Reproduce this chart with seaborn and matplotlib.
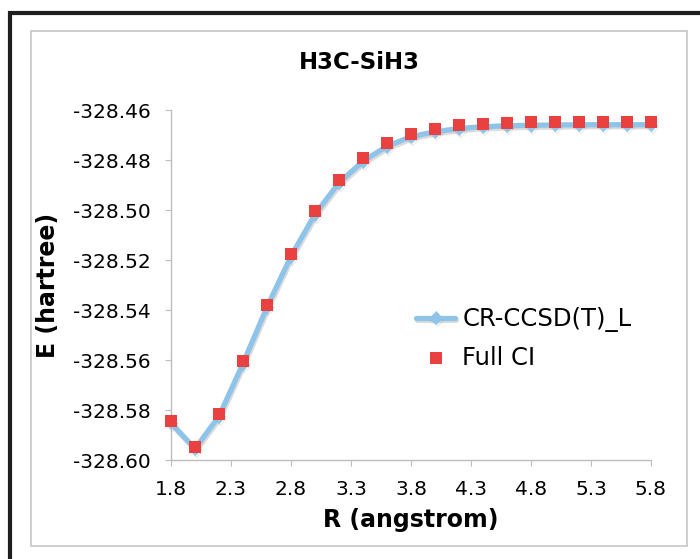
import matplotlib
matplotlib.use("Agg")
import matplotlib.pyplot as plt
import matplotlib.patches as mpatches
import matplotlib.patheffects as pe
import seaborn as sns
import pandas as pd

# ---- data ----
r_angstrom = [1.8, 2.0, 2.2, 2.4, 2.6, 2.8, 3.0, 3.2, 3.4, 3.6, 3.8,
              4.0, 4.2, 4.4, 4.6, 4.8, 5.0, 5.2, 5.4, 5.6, 5.8]
e_full_ci = [-328.5844, -328.5948, -328.5817, -328.5605, -328.5378, -328.5174,
             -328.5005, -328.4879, -328.4792, -328.4732, -328.4694, -328.4674,
             -328.4660, -328.4654, -328.4650, -328.4648, -328.4647, -328.4646,
             -328.4646, -328.4646, -328.4646]
e_cr_ccsd = [-328.5852, -328.5955, -328.5825, -328.5614, -328.5388, -328.5185,
             -328.5017, -328.4891, -328.4805, -328.4745, -328.4707, -328.4687,
             -328.4674, -328.4667, -328.4663, -328.4661, -328.4660, -328.4659,
             -328.4659, -328.4659, -328.4659]
x_ticks = [1.8, 2.3, 2.8, 3.3, 3.8, 4.3, 4.8, 5.3, 5.8]
y_ticks = [-328.60, -328.58, -328.56, -328.54, -328.52, -328.50, -328.48, -328.46]
title = "H3C-SiH3"
x_label = "R (angstrom)"
y_label = "E (hartree)"
series_names = ["CR-CCSD(T)_L", "Full CI"]

df = pd.DataFrame({"R": r_angstrom, "FCI": e_full_ci, "CR": e_cr_ccsd})

sns.set_theme(style="white")
plt.rcParams["font.family"] = ["DejaVu Sans"]
plt.rcParams["axes.unicode_minus"] = False

W, H = 700, 559
fig = plt.figure(figsize=(W / 100, H / 100), dpi=100)
fig.patch.set_facecolor("white")

ax = fig.add_axes([171 / W, 1 - 460 / H, (651 - 171) / W, (460 - 110) / H])
ax.set_facecolor("white")

blue = "#8EC4EA"
red = "#E8413F"

sns.lineplot(data=df, x="R", y="CR", ax=ax, color=blue, linewidth=3.8,
             marker="D", markersize=6.5, markeredgecolor=blue, markeredgewidth=0.5,
             label=series_names[0], clip_on=False, zorder=3,
             path_effects=[pe.SimpleLineShadow(offset=(0.8, -1.5), shadow_color="#999999", alpha=0.35),
                           pe.Normal()])
sns.scatterplot(data=df, x="R", y="FCI", ax=ax, color=red, marker="s", s=72,
                linewidth=0, label=series_names[1], clip_on=False, zorder=4)

ax.set_xlim(1.8, 5.8)
ax.set_ylim(-328.60, -328.46)
ax.set_xticks(x_ticks)
ax.set_xticklabels([f"{v:.1f}" for v in x_ticks])
ax.set_yticks(y_ticks)
ax.set_yticklabels([f"{v:.2f}" for v in y_ticks])

for s in ["top", "right"]:
    ax.spines[s].set_visible(False)
for s in ["left", "bottom"]:
    ax.spines[s].set_color("#BDBDBD")
    ax.spines[s].set_linewidth(1.0)

ax.tick_params(axis="both", which="major", direction="out", length=4.5, width=0.8,
               color="#BDBDBD", labelsize=14.5, labelcolor="black",
               bottom=True, left=True)
ax.tick_params(axis="y", pad=10)
ax.tick_params(axis="x", pad=10)
ax.grid(False)

ax.set_xlabel(x_label, fontsize=17, fontweight="bold", color="black")
ax.set_ylabel(y_label, fontsize=17, fontweight="bold", color="black")
ax.xaxis.set_label_coords((411 - 171) / 480, (460 - 508) / 350)
ax.yaxis.set_label_coords((60 - 171) / 480, 0.5)

fig.text(359 / W, 1 - 62 / H, title, ha="center", va="center",
         fontsize=16.5, fontweight="bold", color="black")

leg = ax.legend(loc="upper left", bbox_to_anchor=(404 / W, 1 - 295 / H),
                bbox_transform=fig.transFigure, frameon=False, fontsize=17.5,
                handlelength=1.6, handletextpad=0.3, labelspacing=0.55, borderpad=0)
for t in leg.get_texts():
    t.set_color("black")

# chart frame (light gray) and outer black border
fig.add_artist(mpatches.Rectangle((31 / W, 1 - 546 / H), (687 - 31) / W, (546 - 31) / H,
                                  transform=fig.transFigure, fill=False,
                                  edgecolor="#C6C6C6", linewidth=1.2))
fig.add_artist(mpatches.Rectangle((10 / W, -0.2), 1.5, (H - 13) / H + 0.2,
                                  transform=fig.transFigure, fill=False,
                                  edgecolor="#1E1E1E", linewidth=3.0))

fig.savefig("out.png", dpi=100)
